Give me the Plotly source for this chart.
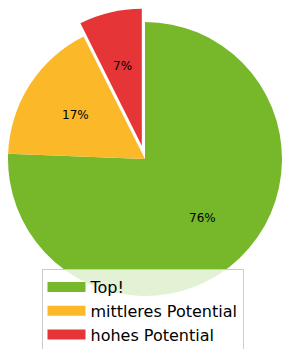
import math
import plotly.graph_objects as go

# ---- data ----
labels = ["Top!", "mittleres Potential", "hohes Potential"]
values = [75.6, 17.0, 7.4]
colors = ["#76B82A", "#FBB92A", "#E53537"]
explode = [0.0, 0.0, 0.1]

# ---- layout constants (pixels) ----
W, H = 282, 349
CX, CY, R = 145, 159, 137
PCT_DIST = 0.6

total = sum(values)
cum = 0.0
mids = []
for v in values:
    mids.append((cum + v / 2) / total * 2 * math.pi)  # clockwise from 12 o'clock
    cum += v


def domain_for(cx, cy):
    return dict(x=[(cx - R) / W, (cx + R) / W],
                y=[1 - (cy + R) / H, 1 - (cy - R) / H])


fig = go.Figure()

# one pie trace per slice: each drawn at its own (exploded) centre
for i in range(len(values)):
    dx = explode[i] * R * math.sin(mids[i])
    dy = -explode[i] * R * math.cos(mids[i])
    cols = [c if j == i else "rgba(0,0,0,0)" for j, c in enumerate(colors)]
    fig.add_trace(go.Pie(
        labels=labels, values=values, sort=False, direction="clockwise",
        rotation=0, marker=dict(colors=cols, line=dict(width=0)),
        textinfo="none", showlegend=False, hoverinfo="label+percent",
        domain=domain_for(CX + dx, CY + dy),
    ))
    # percentage label
    rr = (PCT_DIST + explode[i]) * R
    tx = CX + rr * math.sin(mids[i])
    ty = CY - rr * math.cos(mids[i])
    fig.add_annotation(
        x=tx / W, y=1 - ty / H, xref="paper", yref="paper",
        text=f"{values[i] / total * 100:.0f}%", showarrow=False,
        xanchor="center", yanchor="middle",
        font=dict(family="DejaVu Sans", size=12, color="#000000"),
    )

# legend proxies (wide colour patches like the reference)
for lab, col in zip(labels, colors):
    fig.add_trace(go.Scatter(
        x=[None], y=[None], mode="lines", name=lab,
        line=dict(color=col, width=11), showlegend=True, hoverinfo="skip",
    ))

fig.update_layout(
    width=W, height=H,
    margin=dict(l=0, r=0, t=0, b=0, autoexpand=False),
    paper_bgcolor="white", plot_bgcolor="rgba(0,0,0,0)",
    xaxis=dict(visible=False), yaxis=dict(visible=False),
    font=dict(family="DejaVu Sans", color="#000000"),
    legend=dict(
        x=41.5 / W, y=1 - 269 / H, xanchor="left", yanchor="top",
        bgcolor="rgba(255,255,255,0.8)", bordercolor="#cccccc", borderwidth=1,
        font=dict(family="DejaVu Sans", size=16, color="#000000"),
        traceorder="normal", itemwidth=38,
    ),
)

fig.write_html(
    "out.html",
    config={"displayModeBar": False},
    post_script="document.body.style.margin='0';document.body.style.overflow='hidden';",
)
